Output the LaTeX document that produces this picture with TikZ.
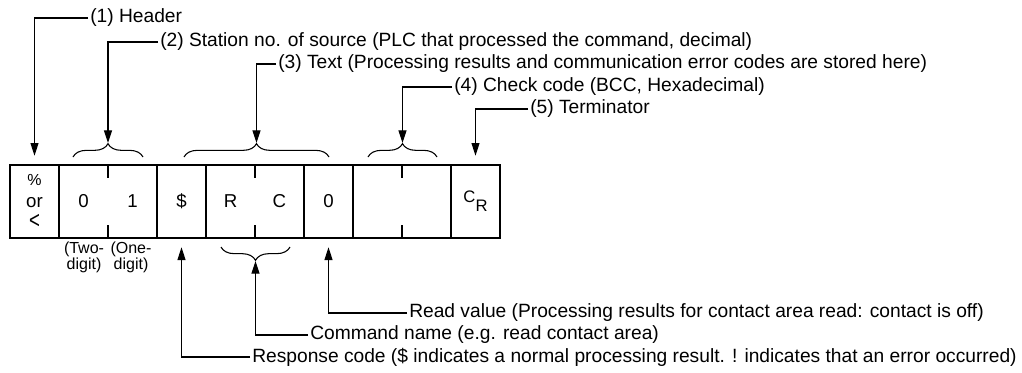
\documentclass[tikz,border=0pt]{standalone}
\usepackage{fontspec}
\setmainfont{Liberation Sans}
\usetikzlibrary{arrows.meta,decorations.pathreplacing}

\begin{document}
\begin{tikzpicture}[x=0.75pt, y=-0.75pt,
    cell/.style={draw, line width=2pt, inner sep=0pt, outer sep=0pt, minimum height=54.75pt, align=center, font=\fontsize{14}{16}\selectfont},
    one/.style={cell, minimum width=36.75pt},
    two/.style={cell, minimum width=73.5pt},
    lbl/.style={anchor=west, inner sep=1.5pt, font=\fontsize{14.4}{16}\selectfont},
    arr/.style={-{Triangle[length=9.5pt, width=6pt]}, line width=0.8pt},
    brc/.style={decorate, decoration={brace, amplitude=10pt}, line width=0.8pt},
    tick/.style={line width=1.5pt}
]
\useasboundingbox (0,0) rectangle (1022,372);

% the frame
\node[one] (hdr)  at (34.5,201.5)  {\fontsize{12}{13}\selectfont\%\\or\\\scalebox{1}[1.3]{<}};
\node[two] (stn)  at (108,201.5)   {\makebox[36.75pt]{0}\makebox[36.75pt]{1}};
\node[one] (resp) at (181.5,201.5) {\$};
\node[two] (cmd)  at (255,201.5)   {\makebox[36.75pt]{R}\makebox[36.75pt]{C}};
\node[one] (rval) at (328.5,201.5) {0};
\node[two] (bcc)  at (402,201.5)   {};
\node[one] (term) at (475.5,201.5) {\fontsize{12.5}{14}\selectfont\raisebox{3pt}{C}\raisebox{-4pt}{R}};
\foreach \c in {stn,cmd,bcc} {
  \draw[tick] (\c.north) -- ++(0,13);
  \draw[tick] (\c.south) -- ++(0,-13);
}

% braces
\draw[brc] (73,157) -- (143,157);
\draw[brc] (184,157) -- (329,157);
\draw[brc] (368,157) -- (437,157);
\draw[brc] (290,247) -- (221,247);
\coordinate (bstn) at (108,143);
\coordinate (btxt) at (256.5,143);
\coordinate (bbcc) at (402.5,143);
\coordinate (bcmd) at (255.5,261);

\node[font=\fontsize{12}{11.5}\selectfont, align=center, inner sep=0pt] (ntwo) at (84,257.5) {(Two-\\digit)};
\node[font=\fontsize{12}{11.5}\selectfont, align=center, inner sep=0pt] (none) at (131,257.5) {(One-\\digit)};

% labels above
\node[lbl] (l1) at (88,18)   {(1) Header};
\node[lbl] (l2) at (158,42)  {(2) Station no. of source (PLC that processed the command, decimal)};
\node[lbl] (l3) at (276,64)  {(3) Text (Processing results and communication error codes are stored here)};
\node[lbl] (l4) at (452,87)  {(4) Check code (BCC, Hexadecimal)};
\node[lbl] (l5) at (528,109) {(5) Terminator};
\draw[arr] (l1.west) -| ([yshift=7pt]hdr.north);
\draw[arr] (l2.west) -| (bstn);
\draw[arr] (l3.west) -| (btxt);
\draw[arr] (l4.west) -| (bbcc);
\draw[arr] (l5.west) -| ([yshift=7pt]term.north);

% labels below
\node[lbl] (lrd) at (407,313) {Read value (Processing results for contact area read: contact is off)};
\node[lbl] (lcm) at (308,335) {Command name (e.g. read contact area)};
\node[lbl] (lrs) at (250,357) {Response code (\$ indicates a normal processing result. ! indicates that an error occurred)};
\draw[arr] (lrd.west) -| ([yshift=-7pt]rval.south);
\draw[arr] (lcm.west) -| (bcmd);
\draw[arr] (lrs.west) -| ([yshift=-7pt]resp.south);
\end{tikzpicture}
\end{document}
